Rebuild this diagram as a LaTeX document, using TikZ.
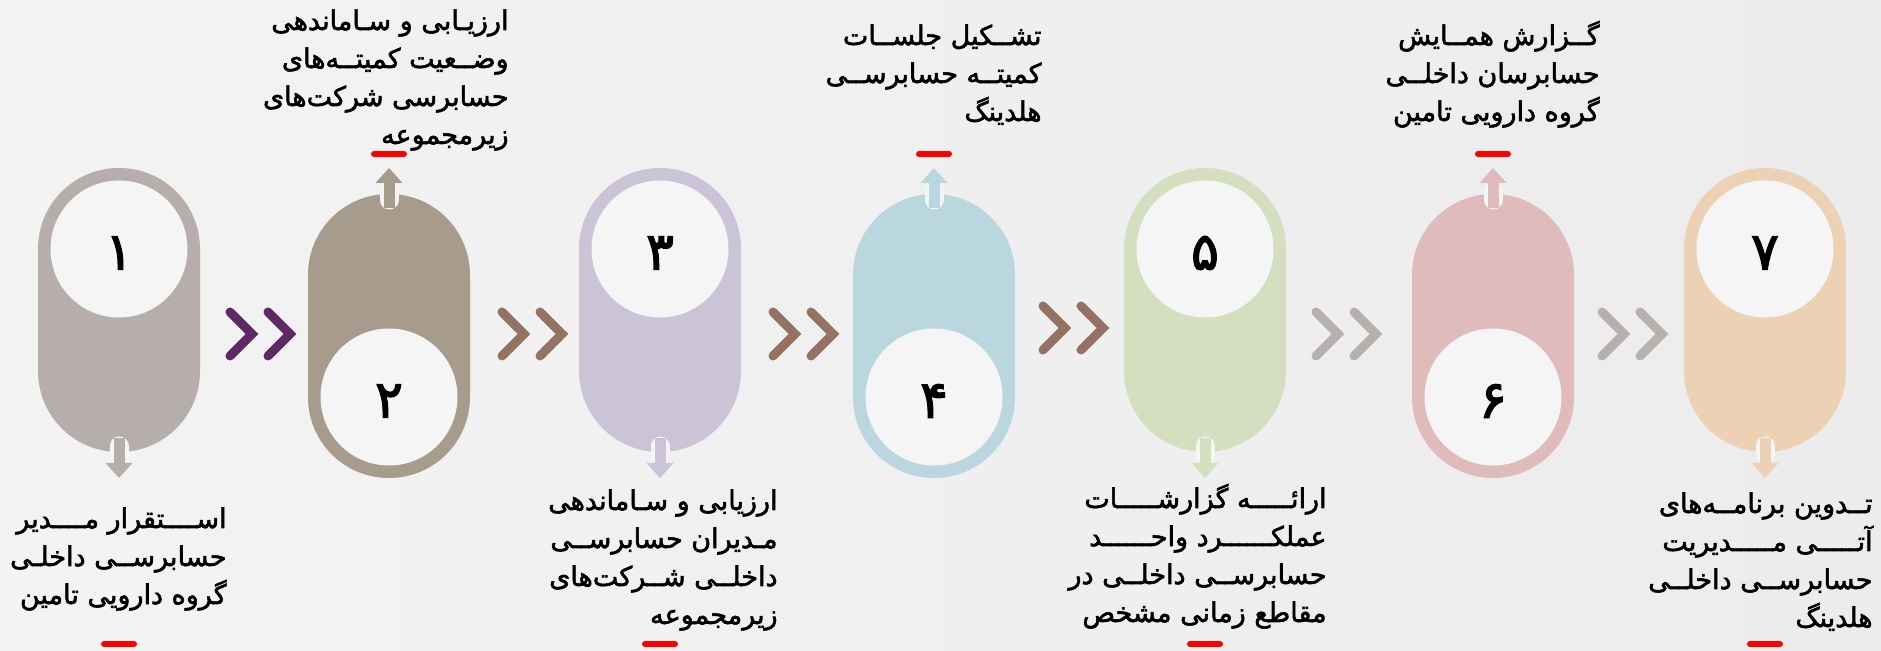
\documentclass[tikz,border=0pt]{standalone}
\usepackage{fontspec}
\TeXXeTstate=1
\newfontfamily\arabicfont[Script=Arabic, FakeBold=2]{DejaVu Sans}
\newfontfamily\digitfont[Script=Arabic, FakeBold=2.5]{DejaVu Sans}
\newcommand{\fa}[1]{\beginR#1\endR}
\definecolor{bgL}{HTML}{F3F3F3}
\definecolor{bgM}{HTML}{F7F7F7}
\definecolor{bgR}{HTML}{ECECEC}
\definecolor{inner}{HTML}{F6F5F5}
\definecolor{c1}{HTML}{B6AEAA}
\definecolor{c2}{HTML}{A79C8B}
\definecolor{c3}{HTML}{CBC4D7}
\definecolor{c4}{HTML}{BAD7DF}
\definecolor{c5}{HTML}{D4DFC0}
\definecolor{c6}{HTML}{DFBBBB}
\definecolor{c7}{HTML}{EDD1B5}
\definecolor{chA}{HTML}{5F2963}
\definecolor{chB}{HTML}{957363}
\definecolor{chC}{HTML}{B8B0AC}
\definecolor{dashred}{HTML}{FF0000}
\tikzset{
  capsule/.style={rounded corners=40.4pt},
  ring/.style={fill=inner},
  digit/.style={font=\digitfont\fontsize{26pt}{30pt}\selectfont, inner sep=0pt, text=black},
  txt/.style={font=\arabicfont\fontsize{13.5pt}{19pt}\selectfont, align=right, inner sep=0pt, anchor=base east, text=black},
  chev/.style={line width=4.5pt, line cap=round, line join=miter},
  notch/.style={draw=inner, line width=9.5pt, line cap=round},
  shaft/.style={line width=5.5pt, shorten >=7pt},
  reddash/.style={draw=dashred, line width=3pt, line cap=round}
}
\begin{document}
\begin{tikzpicture}[x=0.5pt, y=-0.5pt]
\useasboundingbox (0,0) rectangle (1881,651);
\shade[left color=bgL, middle color=bgM, right color=bgR] (0,0) rectangle (1881,651);

% capsules with their white circles
\foreach \i/\cx/\top/\cy/\col in {1/119/168/249/c1, 2/389/194/397/c2, 3/660/168/249/c3, 4/934/194/397/c4, 5/1205/168/249/c5, 6/1493/194/397/c6, 7/1765/168/249/c7}{
  \fill[\col, capsule] (\cx-81,\top) rectangle (\cx+81,\top+284);
  \fill[ring] (\cx,\cy) circle[radius=34.25pt];
}

% digits
\node[digit] (d1) at (119,253) {۱};
\node[digit] (d2) at (389,401) {۲};
\node[digit] (d3) at (660,253) {۳};
\node[digit] (d4) at (934,401) {۴};
\node[digit] (d5) at (1205,253) {۵};
\node[digit] (d6) at (1493,401) {۶};
\node[digit] (d7) at (1765,253) {۷};

% small arrows from the capsules towards the texts
\foreach \i/\cx/\sy/\ty/\hy/\na/\nb/\col in {1/119/438/478/-15/-4/-8/c1, 2/389/208/168/15/4/8/c2, 3/660/438/478/-15/-4/-8/c3, 4/934/208/168/15/4/8/c4, 5/1205/438/478/-15/-4/-8/c5, 6/1493/208/168/15/4/8/c6, 7/1765/438/478/-15/-4/-8/c7}{
  \coordinate (s\i) at (\cx,\sy);
  \coordinate (e\i) at (\cx,\ty);
  \draw[notch] ([yshift=\na pt]s\i) -- ([yshift=\nb pt]s\i);
  \draw[shaft, draw=\col] (s\i) -- (e\i);
  \fill[\col] (e\i) -- ++(13.5,\hy) -- ++(-27,0) -- cycle;
}

% double chevrons between capsules
\foreach \pc/\py/\col in {261/334/chA, 533/334/chB, 804/334/chB, 1074/328/chB, 1347/334/chC, 1633/334/chC}{
  \foreach \o in {-19,19}{
    \draw[chev, draw=\col] (\pc+\o-12,\py-22) -- (\pc+\o+10,\py) -- (\pc+\o-12,\py+22);
  }
}

% red dashes
\foreach \i/\cx/\ry in {1/119/644, 2/389/154, 3/660/644, 4/934/154, 5/1205/644, 6/1493/154, 7/1765/644}{
  \coordinate (r\i) at (\cx,\ry);
  \draw[reddash] ([xshift=-7.5pt]r\i) -- ([xshift=7.5pt]r\i);
}

% texts (anchor = baseline of the last line)
\node[txt] (t1) at (227,604) {\fa{اســــتقرار مــــدیر}\\\fa{حسابرســی داخلـی}\\\fa{گروه دارویی تامین}};
\node[txt] (t2) at (509,144) {\fa{ارزیـابی و سـاماندهی}\\\fa{وضــعیت کمیتــه‌های}\\\fa{حسابرسی شرکت‌های}\\\fa{زیرمجموعه}};
\node[txt] (t3) at (778,624) {\fa{ارزیابی و سـاماندهی}\\\fa{مـدیران حسابرســی}\\\fa{داخلــی شــرکت‌های}\\\fa{زیرمجموعه}};
\node[txt] (t4) at (1042,121) {\fa{تشــکیل جلســات}\\\fa{کمیتــه حسابرســی}\\\fa{هلدینگ}};
\node[txt] (t5) at (1327,622) {\fa{ارائـــــه گزارشـــــات}\\\fa{عملکــــــرد واحــــــد}\\\fa{حسابرســی داخلــی در}\\\fa{مقاطع زمانی مشخص}};
\node[txt] (t6) at (1600,121) {\fa{گــزارش همــایش}\\\fa{حسابرسان داخلــی}\\\fa{گروه دارویی تامین}};
\node[txt] (t7) at (1873,627) {\fa{تــدوین برنامــه‌های}\\\fa{آتـــــی مـــــدیریت}\\\fa{حسابرســی داخلــی}\\\fa{هلدینگ}};
\end{tikzpicture}
\end{document}
